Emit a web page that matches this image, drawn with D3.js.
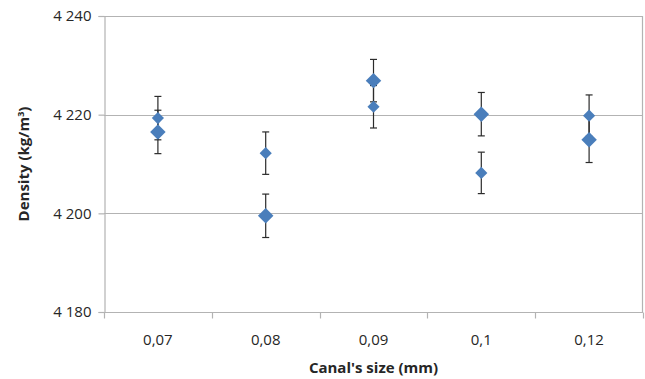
<!DOCTYPE html>
<html>
<head>
<meta charset="utf-8">
<script src="https://cdn.jsdelivr.net/npm/d3@7"></script>
<style>
  html, body { margin: 0; padding: 0; background: #fff; }
  svg { display: block; font-family: "Open Sans", "DejaVu Sans", sans-serif; }
</style>
</head>
<body>
<svg id="chart" width="645" height="379"></svg>
<script>
// Canal sizes (mm) along the x axis
const categories = ["0,07", "0,08", "0,09", "0,1", "0,12"];

// Two density measurement series (kg/m³) with their error half-widths
const seriesSmall = [4219.3, 4212.2, 4221.6, 4208.2, 4219.8];
const errorsSmall = [4.4, 4.3, 4.3, 4.2, 4.2];
const seriesLarge = [4216.5, 4199.5, 4226.9, 4220.1, 4214.9];
const errorsLarge = [4.4, 4.4, 4.3, 4.4, 4.6];

// Y axis ticks
const yTicks = [4180, 4200, 4220, 4240];
const yTickLabels = ["4 180", "4 200", "4 220", "4 240"];

const svg = d3.select("#chart");
const margin = { left: 104, right: 2, top: 16, bottom: 67 };
const width = 645, height = 379;
const x0 = margin.left, x1 = width - margin.right;
const y0 = height - margin.bottom, y1 = margin.top;

const x = d3.scaleBand().domain(categories).range([x0, x1]);
const y = d3.scaleLinear().domain([4180, 4240]).range([y0, y1]);

const gridColor = "#b3b3b3";
const markerColor = "#4a7ebb";
const errColor = "#2b2b2b";
const textColor = "#262626";
const fontSize = 15;

// Horizontal gridlines
svg.append("g")
  .selectAll("line")
  .data(yTicks)
  .join("line")
  .attr("x1", x0).attr("x2", x1)
  .attr("y1", d => Math.round(y(d)) + 0.5)
  .attr("y2", d => Math.round(y(d)) + 0.5)
  .attr("stroke", gridColor).attr("stroke-width", 1.2);

// Right border of the plot area
svg.append("line")
  .attr("x1", x1 - 0.5).attr("x2", x1 - 0.5)
  .attr("y1", y1).attr("y2", y0)
  .attr("stroke", gridColor).attr("stroke-width", 1.2);

// Y axis
const yAxis = d3.axisLeft(y)
  .tickValues(yTicks)
  .tickFormat((d, i) => yTickLabels[i])
  .tickSize(6).tickPadding(7);
const gy = svg.append("g")
  .attr("transform", `translate(${x0 + 0.5},0)`)
  .call(yAxis);

// X axis with boundary ticks between categories
const boundaries = categories.map(c => x(c)).concat([x1]);
const gx = svg.append("g")
  .attr("transform", `translate(0,${Math.round(y0) + 0.5})`);
gx.append("line")
  .attr("x1", x0).attr("x2", x1)
  .attr("stroke", gridColor).attr("stroke-width", 1.2);
gx.selectAll("line.tick")
  .data(boundaries)
  .join("line")
  .attr("class", "tick")
  .attr("x1", d => Math.round(d) + 0.5).attr("x2", d => Math.round(d) + 0.5)
  .attr("y1", 0).attr("y2", 6)
  .attr("stroke", gridColor).attr("stroke-width", 1.2);
gx.selectAll("text")
  .data(categories)
  .join("text")
  .attr("x", d => x(d) + x.bandwidth() / 2)
  .attr("y", 32)
  .attr("text-anchor", "middle")
  .attr("fill", textColor)
  .attr("font-size", fontSize)
  .text(d => d);

gy.select(".domain").attr("stroke", gridColor).attr("stroke-width", 1.2);
gy.selectAll(".tick line").attr("stroke", gridColor).attr("stroke-width", 1.2);
gy.selectAll(".tick text")
  .attr("fill", textColor)
  .attr("font-size", fontSize)
  .attr("font-family", "'Open Sans', sans-serif");

// Axis titles
svg.append("text")
  .attr("x", (x0 + x1) / 2)
  .attr("y", 373)
  .attr("text-anchor", "middle")
  .attr("font-weight", "bold")
  .attr("font-size", fontSize)
  .attr("fill", textColor)
  .text("Canal's size (mm)");

const yTitle = svg.append("text")
  .attr("transform", `translate(29,${(y0 + y1) / 2}) rotate(-90)`)
  .attr("text-anchor", "middle")
  .attr("font-weight", "bold")
  .attr("font-size", fontSize)
  .attr("fill", textColor);
yTitle.append("tspan").text("Density (kg/m");
yTitle.append("tspan").attr("font-size", 9).attr("dy", -5).text("3");
yTitle.append("tspan").attr("dy", 5).text(")");

// Error bars and diamond markers
const series = [
  { values: seriesSmall, errors: errorsSmall, size: 74 },
  { values: seriesLarge, errors: errorsLarge, size: 120 }
];
const cx = c => x(c) + x.bandwidth() / 2;
const capHalf = 3.5;

const errLayer = svg.append("g");
const markLayer = svg.append("g");

series.forEach(s => {
  const pts = categories.map((c, i) => ({ c, v: s.values[i], e: s.errors[i] }));
  const g = errLayer.append("g").attr("stroke", errColor).attr("stroke-width", 1.2);
  g.selectAll("line.v").data(pts).join("line").attr("class", "v")
    .attr("x1", d => cx(d.c)).attr("x2", d => cx(d.c))
    .attr("y1", d => y(d.v + d.e)).attr("y2", d => y(d.v - d.e));
  g.selectAll("line.t").data(pts).join("line").attr("class", "t")
    .attr("x1", d => cx(d.c) - capHalf).attr("x2", d => cx(d.c) + capHalf)
    .attr("y1", d => y(d.v + d.e)).attr("y2", d => y(d.v + d.e));
  g.selectAll("line.b").data(pts).join("line").attr("class", "b")
    .attr("x1", d => cx(d.c) - capHalf).attr("x2", d => cx(d.c) + capHalf)
    .attr("y1", d => y(d.v - d.e)).attr("y2", d => y(d.v - d.e));

  markLayer.append("g").selectAll("path").data(pts).join("path")
    .attr("d", d3.symbol(d3.symbolSquare, s.size))
    .attr("transform", d => `translate(${cx(d.c)},${y(d.v)}) rotate(45)`)
    .attr("fill", markerColor);
});
</script>
</body>
</html>
